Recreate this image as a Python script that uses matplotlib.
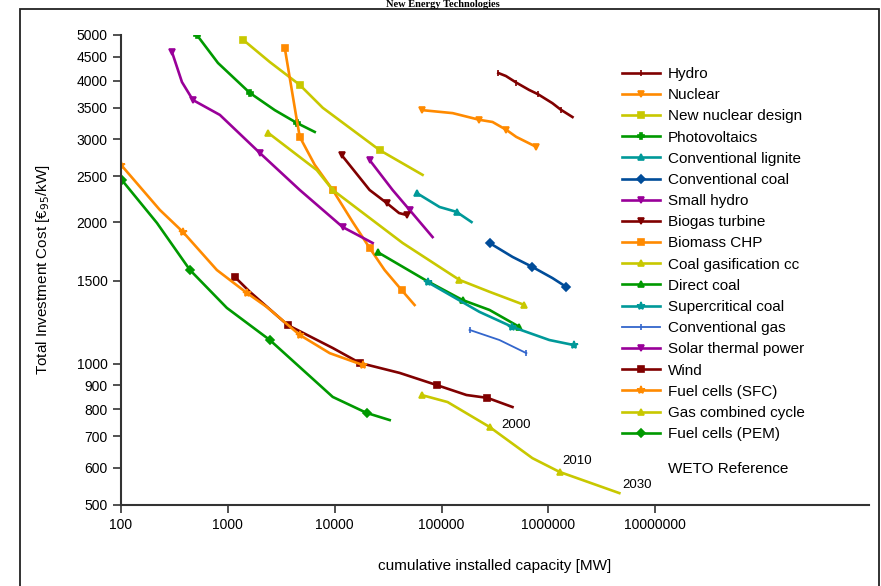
import matplotlib
matplotlib.use('Agg')
import matplotlib.pyplot as plt
from matplotlib.patches import Rectangle

plt.rcParams['font.family'] = ['Liberation Sans', 'DejaVu Sans']

# learning curves: cumulative capacity [MW] vs. investment cost [EUR95/kW]
hydro_x = [3.4e5, 4.0e5, 5.0e5, 6.6e5, 8.0e5, 1.09e6, 1.3e6, 1.68e6]
hydro_y = [4150, 4090, 3960, 3820, 3740, 3580, 3470, 3345]

nuclear_x = [6.6e4, 1.27e5, 2.26e5, 3.0e5, 4.05e5, 5.0e5, 7.7e5]
nuclear_y = [3460, 3410, 3300, 3265, 3140, 3035, 2890]

newnuc_x = [1380, 2470, 4710, 7730, 26300, 66400]
newnuc_y = [4890, 4380, 3915, 3500, 2845, 2520]

pv_x = [513, 808, 1606, 2750, 4415, 6500]
pv_y = [5000, 4360, 3765, 3460, 3250, 3110]

lignite_x = [58400, 95700, 138000, 190600]
lignite_y = [2306, 2153, 2102, 2000]

convcoal_x = [2.81e5, 4.61e5, 7.08e5, 1.09e6, 1.47e6]
convcoal_y = [1805, 1686, 1605, 1520, 1455]

smallhydro_x = [21200, 34800, 50200, 82400]
smallhydro_y = [2710, 2340, 2122, 1858]

biogas_x = [11600, 21200, 30600, 40000, 47100]
biogas_y = [2777, 2340, 2196, 2090, 2070]

biomass_x = [3410, 4415, 4710, 6500, 9580, 14730, 21200, 29300, 42300, 55900]
biomass_y = [4690, 3300, 3035, 2647, 2340, 2000, 1762, 1581, 1433, 1332]

coalgas_x = [2365, 6790, 9580, 43200, 147000, 281000, 597000]
coalgas_y = [3100, 2580, 2340, 1805, 1506, 1421, 1332]

directcoal_x = [25200, 72400, 157000, 281000, 536000]
directcoal_y = [1726, 1500, 1365, 1300, 1196]

supercrit_x = [74000, 226000, 461000, 1.02e6, 1.75e6]
supercrit_y = [1490, 1288, 1196, 1122, 1094]

convgas_x = [182800, 348000, 622000]
convgas_y = [1179, 1122, 1052]

solar_x = [300, 372, 471, 842, 1990, 4710, 11880, 22650]
solar_y = [4600, 3970, 3636, 3380, 2806, 2340, 1951, 1805]

wind_x = [1162, 1606, 3640, 9580, 17140, 40500, 89800, 171000, 269000, 461000]
wind_y = [1528, 1421, 1207, 1079, 1003, 955, 900, 857, 845, 808]

sfc_x = [100, 231, 380, 789, 1506, 2315, 4710, 8980, 18280]
sfc_y = [2647, 2122, 1905, 1581, 1413, 1319, 1150, 1052, 993]

gascc_x = [65000, 113800, 281000, 708000, 1.27e6, 4.61e6]
gascc_y = [857, 828, 733, 629, 588, 530]

pem_x = [102, 217, 442, 979, 2470, 9580, 19900, 32700]
pem_y = [2456, 1991, 1581, 1313, 1122, 849, 785, 758]

x_ticks = [100, 1000, 10000, 100000, 1000000, 10000000]
y_ticks = [500, 600, 700, 800, 900, 1000, 1500, 2000, 2500, 3000, 3500, 4000, 4500, 5000]

red = '#800000'
orange = '#FF8A00'
olive = '#C8C800'
green = '#009900'
teal = '#009999'
navy = '#004C99'
purple = '#990099'
blue = '#3366CC'

series = [
    ('Hydro', hydro_x, hydro_y, red, '|', 5),
    ('Nuclear', nuclear_x, nuclear_y, orange, 'v', 4),
    ('New nuclear design', newnuc_x, newnuc_y, olive, 's', 5),
    ('Photovoltaics', pv_x, pv_y, green, 'P', 5),
    ('Conventional lignite', lignite_x, lignite_y, teal, '^', 4),
    ('Conventional coal', convcoal_x, convcoal_y, navy, 'D', 4),
    ('Small hydro', smallhydro_x, smallhydro_y, purple, 'v', 4),
    ('Biogas turbine', biogas_x, biogas_y, red, 'v', 5),
    ('Biomass CHP', biomass_x, biomass_y, orange, 's', 5),
    ('Coal gasification cc', coalgas_x, coalgas_y, olive, '^', 4),
    ('Direct coal', directcoal_x, directcoal_y, green, '^', 4),
    ('Supercritical coal', supercrit_x, supercrit_y, teal, '*', 6),
    ('Conventional gas', convgas_x, convgas_y, blue, '|', 5),
    ('Solar thermal power', solar_x, solar_y, purple, 'v', 5),
    ('Wind', wind_x, wind_y, red, 's', 5),
    ('Fuel cells (SFC)', sfc_x, sfc_y, orange, '*', 6),
    ('Gas combined cycle', gascc_x, gascc_y, olive, '^', 4),
    ('Fuel cells (PEM)', pem_x, pem_y, green, 'D', 4),
]

fig = plt.figure(figsize=(8.81, 5.86), dpi=100)
ax = fig.add_axes([121 / 881, 81 / 586, 748 / 881, 470 / 586])

handles = []
for name, xs, ys, col, mk, ms in series:
    lw = 1.3 if name == 'Conventional gas' else 1.9
    h, = ax.plot(xs, ys, color=col, lw=lw, marker=mk, ms=ms, mew=1.2,
                 markevery=2, label=name)
    handles.append(h)

ax.set_xscale('log')
ax.set_yscale('log')
ax.set_xlim(100, 1e9)
ax.set_ylim(500, 5000)
ax.set_xticks(x_ticks)
ax.set_xticklabels([str(v) for v in x_ticks])
ax.set_yticks(y_ticks)
ax.set_yticklabels([str(v) for v in y_ticks])
ax.minorticks_off()
ax.tick_params(labelsize=10, length=6, width=1.2, color='#333333')
for s in ['top', 'right']:
    ax.spines[s].set_visible(False)
for s in ['left', 'bottom']:
    ax.spines[s].set_linewidth(1.5)
    ax.spines[s].set_color('#333333')

ax.set_xlabel('cumulative installed capacity [MW]', fontsize=11, labelpad=19)
ax.set_ylabel('Total Investment Cost [€$_{95}$/kW]', fontsize=11, labelpad=18)

ax.text(3.64e5, 740, '2000', fontsize=9.5, ha='left', va='center')
ax.text(1.35e6, 620, '2010', fontsize=9.5, ha='left', va='center')
ax.text(4.92e6, 551, '2030', fontsize=9.5, ha='left', va='center')

fig.legend(handles=handles, loc='upper left', bbox_to_anchor=(622 / 881, 1 - 67 / 586),
           frameon=False, borderpad=0, borderaxespad=0, handlelength=2.5,
           handletextpad=0.5, labelspacing=0.47, fontsize=11)
fig.text(668 / 881, 1 - 469 / 586, 'WETO Reference', fontsize=11, va='center')

# title (mostly hidden above the frame in the original) and the frame around the chart
fig.text(443 / 881, 1.0, 'New Energy Technologies', fontsize=7.5,
         fontweight='bold', family='Liberation Serif', ha='center', va='top')
fig.patches.append(Rectangle((20 / 881, -0.02), 859 / 881, 1.02 - 9 / 586,
                             transform=fig.transFigure, fill=False,
                             edgecolor='#222222', lw=1.3))

plt.savefig('out.png', dpi=100)
